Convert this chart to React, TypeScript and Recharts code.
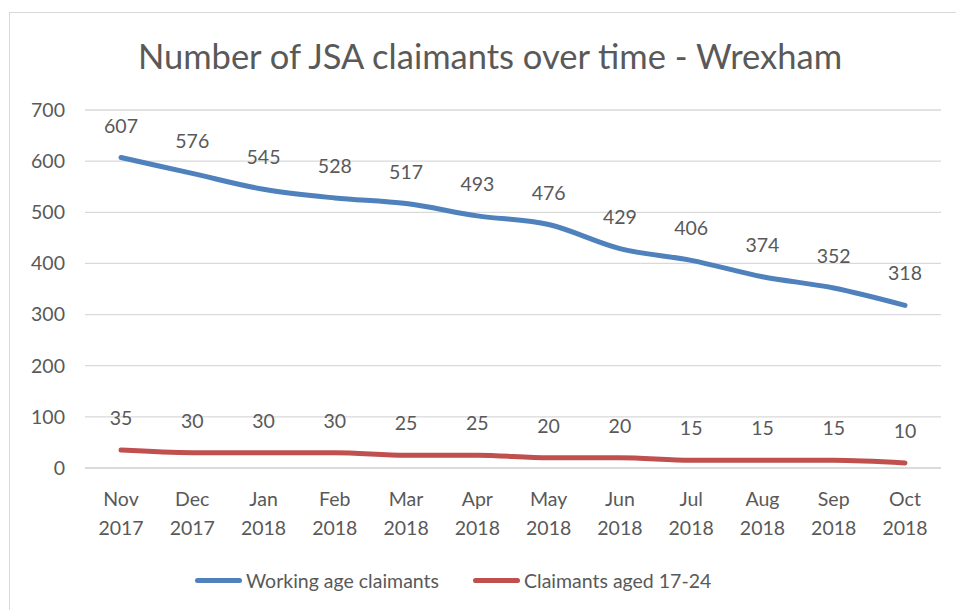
import { LineChart, Line, XAxis, YAxis, CartesianGrid, LabelList } from 'recharts';

const months = ['Nov 2017', 'Dec 2017', 'Jan 2018', 'Feb 2018', 'Mar 2018', 'Apr 2018', 'May 2018', 'Jun 2018', 'Jul 2018', 'Aug 2018', 'Sep 2018', 'Oct 2018'];
const workingAge = [607, 576, 545, 528, 517, 493, 476, 429, 406, 374, 352, 318];
const aged1724 = [35, 30, 30, 30, 25, 25, 20, 20, 15, 15, 15, 10];
const yTicks = [0, 100, 200, 300, 400, 500, 600, 700];

const data = months.map((m, i) => ({ month: m, working: workingAge[i], young: aged1724[i] }));

const FONT = 'Lato, "Open Sans", sans-serif';
const TEXT = '#595959';
const BLUE = '#4F81BD';
const RED = '#C0504D';

function MonthTick(props: any) {
  const { x, y, payload } = props;
  const [mon, year] = String(payload.value).split(' ');
  return (
    <g transform={`translate(${x},${y})`}>
      <text textAnchor="middle" fill={TEXT} fontSize={19.5} fontFamily={FONT}>
        <tspan x={0} dy={30}>{mon}</tspan>
        <tspan x={0} dy={29}>{year}</tspan>
      </text>
    </g>
  );
}

function LegendBox() {
  const item = (color: string, label: string, gap: number) => (
    <span style={{ display: 'inline-flex', alignItems: 'center', marginRight: gap }}>
      <span style={{ display: 'inline-block', width: 47, height: 5, borderRadius: 3, background: color, marginRight: 4 }} />
      <span>{label}</span>
    </span>
  );
  return (
    <div style={{ position: 'absolute', left: 195, top: 564, whiteSpace: 'nowrap', fontFamily: FONT, fontSize: 19.5, color: TEXT }}>
      {item(BLUE, 'Working age claimants', 34)}
      {item(RED, 'Claimants aged 17-24', 0)}
    </div>
  );
}

export default function App() {
  return (
    <div style={{ position: 'absolute', left: 0, top: 0, width: 956, height: 610, background: '#fff', overflow: 'hidden' }}>
      <div style={{ position: 'absolute', left: 9, top: 12, width: 960, height: 610, border: '1px solid #d9d9d9' }} />
      <div style={{ position: 'absolute', left: 0, top: 35, width: 980, textAlign: 'center', fontFamily: FONT, fontSize: 34.5, color: TEXT }}>
        Number of JSA claimants over time - Wrexham
      </div>
      <div style={{ position: 'absolute', left: 0, top: 0 }}>
        <LineChart width={956} height={610} data={data} margin={{ top: 110, right: 15, bottom: 0, left: 0 }}>
          <CartesianGrid vertical={false} stroke="#d9d9d9" strokeWidth={1.3} />
          <XAxis
            dataKey="month"
            height={142}
            padding={{ left: 36, right: 36 }}
            axisLine={{ stroke: '#d9d9d9', strokeWidth: 1.3 }}
            tickLine={false}
            interval={0}
            tick={<MonthTick />}
          />
          <YAxis
            width={85}
            domain={[0, 700]}
            ticks={yTicks}
            axisLine={false}
            tickLine={false}
            tickSize={0}
            tickMargin={20}
            tick={{ fill: TEXT, fontSize: 19.5, fontFamily: FONT }}
          />
          <Line type="monotone" dataKey="working" stroke={BLUE} strokeWidth={5} dot={false} strokeLinecap="round" isAnimationActive={false}>
            <LabelList dataKey="working" position="top" offset={25} fill={TEXT} fontSize={19.5} fontFamily={FONT} />
          </Line>
          <Line type="monotone" dataKey="young" stroke={RED} strokeWidth={5} dot={false} strokeLinecap="round" isAnimationActive={false}>
            <LabelList dataKey="young" position="top" offset={25} fill={TEXT} fontSize={19.5} fontFamily={FONT} />
          </Line>
        </LineChart>
      </div>
      <LegendBox />
    </div>
  );
}
